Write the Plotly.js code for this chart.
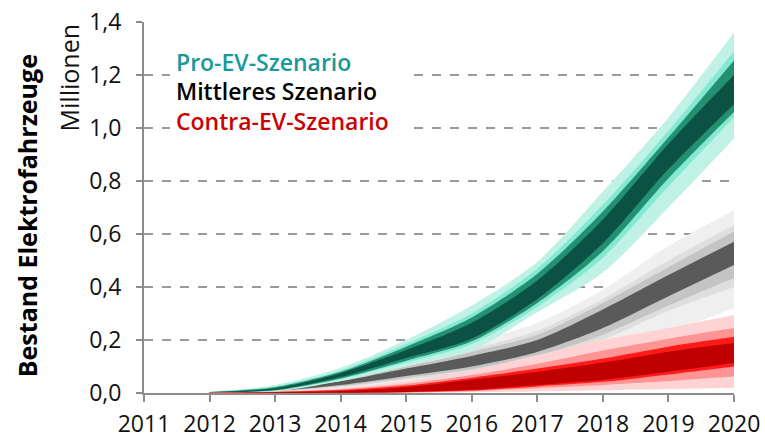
<!DOCTYPE html>
<html>
<head>
<meta charset="utf-8">
<script src="https://cdn.plot.ly/plotly-3.0.1.min.js"></script>
<style>html,body{margin:0;padding:0;background:#fff;}#chart{width:765px;height:438px;}</style>
</head>
<body>
<div id="chart"></div>
<script>
// Years
const years = [2012, 2013, 2014, 2015, 2016, 2017, 2018, 2019, 2020];
const xTicks = [2011, 2012, 2013, 2014, 2015, 2016, 2017, 2018, 2019, 2020];
const yTicks = [0, 0.2, 0.4, 0.6, 0.8, 1.0, 1.2, 1.4];

// Pro-EV-Szenario (Millionen) – fan bands, outer to inner
const proOuterHi = [0.005, 0.030, 0.095, 0.200, 0.330, 0.495, 0.760, 1.040, 1.360];
const proOuterLo = [0.000, 0.005, 0.045, 0.100, 0.160, 0.305, 0.455, 0.700, 0.960];
const proLightHi = [0.004, 0.025, 0.085, 0.185, 0.300, 0.470, 0.710, 0.990, 1.290];
const proLightLo = [0.001, 0.008, 0.052, 0.115, 0.185, 0.325, 0.510, 0.780, 1.040];
const proMidHi   = [0.004, 0.022, 0.080, 0.175, 0.285, 0.450, 0.685, 0.965, 1.255];
const proMidLo   = [0.001, 0.010, 0.055, 0.122, 0.195, 0.340, 0.535, 0.810, 1.060];
const proCoreHi  = [0.003, 0.018, 0.075, 0.162, 0.265, 0.425, 0.655, 0.940, 1.200];
const proCoreLo  = [0.002, 0.012, 0.060, 0.132, 0.205, 0.355, 0.565, 0.845, 1.090];

// Mittleres Szenario
const midOuterHi = [0.005, 0.024, 0.062, 0.130, 0.190, 0.265, 0.390, 0.555, 0.690];
const midOuterLo = [0.000, 0.003, 0.016, 0.040, 0.065, 0.100, 0.160, 0.230, 0.320];
const midLightHi = [0.004, 0.020, 0.053, 0.108, 0.165, 0.235, 0.355, 0.500, 0.634];
const midLightLo = [0.000, 0.005, 0.022, 0.050, 0.080, 0.125, 0.200, 0.310, 0.400];
const midMidHi   = [0.003, 0.018, 0.050, 0.100, 0.155, 0.220, 0.340, 0.475, 0.609];
const midMidLo   = [0.001, 0.006, 0.026, 0.057, 0.090, 0.140, 0.220, 0.330, 0.434];
const midCoreHi  = [0.003, 0.015, 0.044, 0.092, 0.140, 0.200, 0.315, 0.445, 0.571];
const midCoreLo  = [0.001, 0.008, 0.030, 0.064, 0.100, 0.155, 0.245, 0.365, 0.483];

// Contra-EV-Szenario
const conOuterHi = [0.002, 0.006, 0.018, 0.045, 0.085, 0.143, 0.200, 0.245, 0.294];
const conOuterLo = [0.000, 0.000, 0.000, 0.001, 0.003, 0.006, 0.010, 0.015, 0.020];
const conLightHi = [0.002, 0.005, 0.014, 0.035, 0.068, 0.110, 0.160, 0.205, 0.245];
const conLightLo = [0.000, 0.000, 0.001, 0.002, 0.007, 0.018, 0.030, 0.045, 0.062];
const conMidHi   = [0.001, 0.004, 0.011, 0.028, 0.058, 0.092, 0.130, 0.175, 0.212];
const conMidLo   = [0.000, 0.000, 0.001, 0.003, 0.009, 0.025, 0.042, 0.070, 0.100];
const conCoreHi  = [0.001, 0.003, 0.008, 0.022, 0.050, 0.080, 0.115, 0.156, 0.189];
const conCoreLo  = [0.000, 0.000, 0.001, 0.004, 0.012, 0.030, 0.050, 0.080, 0.113];

const legendLabels = ['Pro-EV-Szenario', 'Mittleres Szenario', 'Contra-EV-Szenario'];

function band(hi, lo, color) {
  const base = {x: years, type: 'scatter', mode: 'lines', hoverinfo: 'skip', showlegend: false};
  return [
    Object.assign({}, base, {y: lo, line: {width: 0, shape: 'spline', smoothing: 0.8}}),
    Object.assign({}, base, {y: hi, fill: 'tonexty', fillcolor: color,
      line: {width: 0, shape: 'spline', smoothing: 0.8}})
  ];
}

const traces = [].concat(
  band(midOuterHi, midOuterLo, '#efefef'),
  band(midLightHi, midLightLo, '#dedede'),
  band(midMidHi, midMidLo, '#c4c4c4'),
  band(midCoreHi, midCoreLo, '#5a5a5a'),
  band(proOuterHi, proOuterLo, '#bff2e5'),
  band(proLightHi, proLightLo, '#84e9d0'),
  band(proMidHi, proMidLo, '#23906f'),
  band(proCoreHi, proCoreLo, '#0c5244'),
  band(conOuterHi, conOuterLo, '#ffd3d3'),
  band(conLightHi, conLightLo, '#ff9494'),
  band(conMidHi, conMidLo, '#ff1a1a'),
  band(conCoreHi, conCoreLo, '#c00000')
);

const font = 'Open Sans, Liberation Sans, sans-serif';

const layout = {
  width: 765, height: 438,
  margin: {l: 144, r: 31, t: 22, b: 45},
  paper_bgcolor: '#ffffff', plot_bgcolor: '#ffffff',
  separators: ',.',
  showlegend: false,
  xaxis: {
    range: [2011, 2020], tickvals: xTicks, ticktext: xTicks.map(String),
    showgrid: false, zeroline: false,
    showline: true, linecolor: '#8c8c8c', linewidth: 2,
    ticks: 'outside', ticklen: 7, tickwidth: 2, tickcolor: '#8c8c8c',
    tickfont: {family: font, size: 23, color: '#111111'},
    ticklabelstandoff: 2
  },
  yaxis: {
    range: [0, 1.4], tickvals: yTicks, tickformat: '.1f',
    showgrid: true, gridcolor: '#9a9a9a', gridwidth: 1.3, griddash: 'dash',
    zeroline: false,
    showline: true, linecolor: '#8c8c8c', linewidth: 2,
    ticks: 'outside', ticklen: 6, tickwidth: 2, tickcolor: '#8c8c8c',
    tickfont: {family: font, size: 23, color: '#111111'},
    ticklabelstandoff: 10
  },
  shapes: [
    {type: 'rect', xref: 'paper', yref: 'paper', x0: 0.044, x1: 0.45, y0: 0.685, y1: 0.945,
     fillcolor: '#ffffff', line: {width: 0}, layer: 'above'}
  ],
  annotations: [
    {text: 'Bestand Elektrofahrzeuge', xref: 'paper', yref: 'paper', x: -0.198, y: 0.477,
     xanchor: 'center', yanchor: 'middle', textangle: -90, showarrow: false,
     font: {family: font, size: 25, color: '#000000', weight: 700}},
    {text: 'Millionen', xref: 'paper', yref: 'paper', x: -0.127, y: 0.848,
     xanchor: 'center', yanchor: 'middle', textangle: -90, showarrow: false,
     font: {family: font, size: 25, color: '#111111'}},
    {text: legendLabels[0], xref: 'paper', yref: 'paper', x: 0.05, y: 0.892,
     xanchor: 'left', yanchor: 'middle', showarrow: false,
     font: {family: font, size: 23, color: '#17999a', weight: 600}},
    {text: legendLabels[1], xref: 'paper', yref: 'paper', x: 0.05, y: 0.813,
     xanchor: 'left', yanchor: 'middle', showarrow: false,
     font: {family: font, size: 23, color: '#000000', weight: 600}},
    {text: legendLabels[2], xref: 'paper', yref: 'paper', x: 0.05, y: 0.733,
     xanchor: 'left', yanchor: 'middle', showarrow: false,
     font: {family: font, size: 23, color: '#cc0000', weight: 600}}
  ]
};

Plotly.newPlot('chart', traces, layout, {displayModeBar: false, staticPlot: true});
</script>
</body>
</html>
